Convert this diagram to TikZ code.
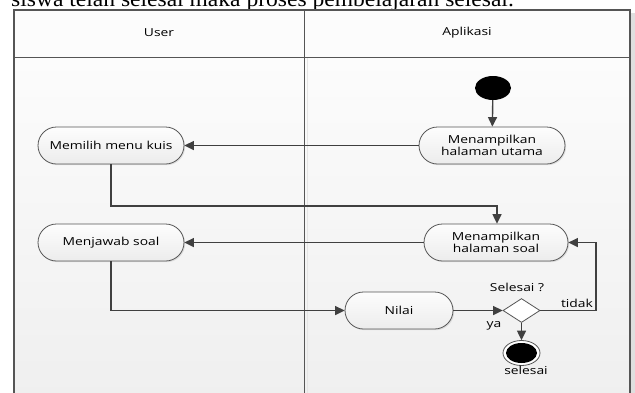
\documentclass[tikz,border=0pt]{standalone}
\usepackage{fontspec}
\setmainfont{Liberation Serif}
\newfontfamily\bodyfont[FakeStretch=1.07]{Liberation Serif}
\newfontfamily\diagfont[FakeStretch=1.26]{Open Sans}
\usetikzlibrary{arrows.meta,shapes.geometric,shadows}

\definecolor{linec}{HTML}{404040}
\definecolor{framec}{HTML}{555555}
\definecolor{lanetop}{HTML}{FCFCFC}
\definecolor{lanebot}{HTML}{EFEFEF}
\definecolor{acttop}{HTML}{FDFDFD}
\definecolor{actbot}{HTML}{ECECEC}

\tikzset{
  diagtext/.style={font=\diagfont\fontsize{11}{12.7}\selectfont, text=black},
  act/.style={diagtext, draw=framec, line width=0.8, top color=acttop, bottom color=actbot,
    rounded corners=18.5, minimum width=146, minimum height=37, align=center, inner sep=0,
    drop shadow={shadow xshift=1.2pt, shadow yshift=-1.2pt, opacity=0.2}},
  flow/.style={draw=linec, line width=1.4, -{Triangle[length=9.5,width=9]}},
  lbl/.style={diagtext, inner sep=0},
}

\begin{document}
\begin{tikzpicture}[x=1pt,y=-1pt]
\useasboundingbox (0,0) rectangle (635,392);
\clip (0,0) rectangle (635,392);

% page background and the sentence above the diagram
\fill[white] (0,0) rectangle (635,392);
\node[anchor=base west, inner sep=0, font=\bodyfont\fontsize{22}{26}\selectfont] (caption) at (11,6.5)
  {siswa telah selesai maka proses pembelajaran selesai.};

% swimlane frame
\fill[gray!25] (631,13) rectangle (635,400);
\fill[lanetop] (14,10) rectangle (630,57);
\shade[top color=lanetop, bottom color=lanebot] (14,57) rectangle (630,400);
\draw[gray!20, line width=0.6] (307,57) -- (307,400);
\draw[framec, line width=1.2] (14,10) rectangle (630,400);
\draw[framec, line width=1.0] (14,57) -- (630,57);
\draw[framec, line width=1.0] (304,10) -- (304,400);
\node[lbl] (laneuser) at (159,33) {User};
\node[lbl] (laneapp) at (467,33) {Aplikasi};

% activities
\node[ellipse, fill=black, minimum width=36, minimum height=24, inner sep=0] (start) at (493,88) {};
\node[act] (utama) at (492,145.5) {Menampilkan\\halaman utama};
\node[act] (memilih) at (111,145.5) {Memilih menu kuis};
\node[act, minimum width=144] (soal) at (496,242.5) {Menampilkan\\halaman soal};
\node[act] (menjawab) at (111,242.5) {Menjawab soal};
\node[act, minimum width=108] (nilai) at (399,310.5) {Nilai};
\node[diamond, draw=framec, line width=0.8, fill=white, minimum width=37, minimum height=24, inner sep=0] (cek) at (521.5,310.5) {};
\node[ellipse, draw=framec, line width=0.8, fill=white, minimum width=37, minimum height=25, inner sep=0] (stop) at (521.5,353) {};
\node[ellipse, fill=black, minimum width=31, minimum height=20, inner sep=0] (stopdot) at (stop.center) {};

% labels
\node[lbl] (lblcek) at (517,287) {Selesai ?};
\node[lbl] (lbltidak) at (577,303) {tidak};
\node[lbl] (lblya) at (494,326) {ya};
\node[lbl] (lblselesai) at (526,370) {selesai};

% connectors
\coordinate (j1) at (497,206);
\coordinate (j2) at (596,310.5);
\draw[flow] (start) -- (utama);
\draw[flow] (utama) -- (memilih);
\draw[flow] (memilih.south) |- (j1) -- (j1 |- soal.north);
\draw[flow] (soal) -- (menjawab);
\draw[flow] (menjawab.south) |- (nilai.west);
\draw[flow] (nilai) -- (cek);
\draw[flow] (cek.east) -- (j2) |- (soal.east);
\draw[flow] (cek.south) -- (stop.north);
\end{tikzpicture}
\end{document}
